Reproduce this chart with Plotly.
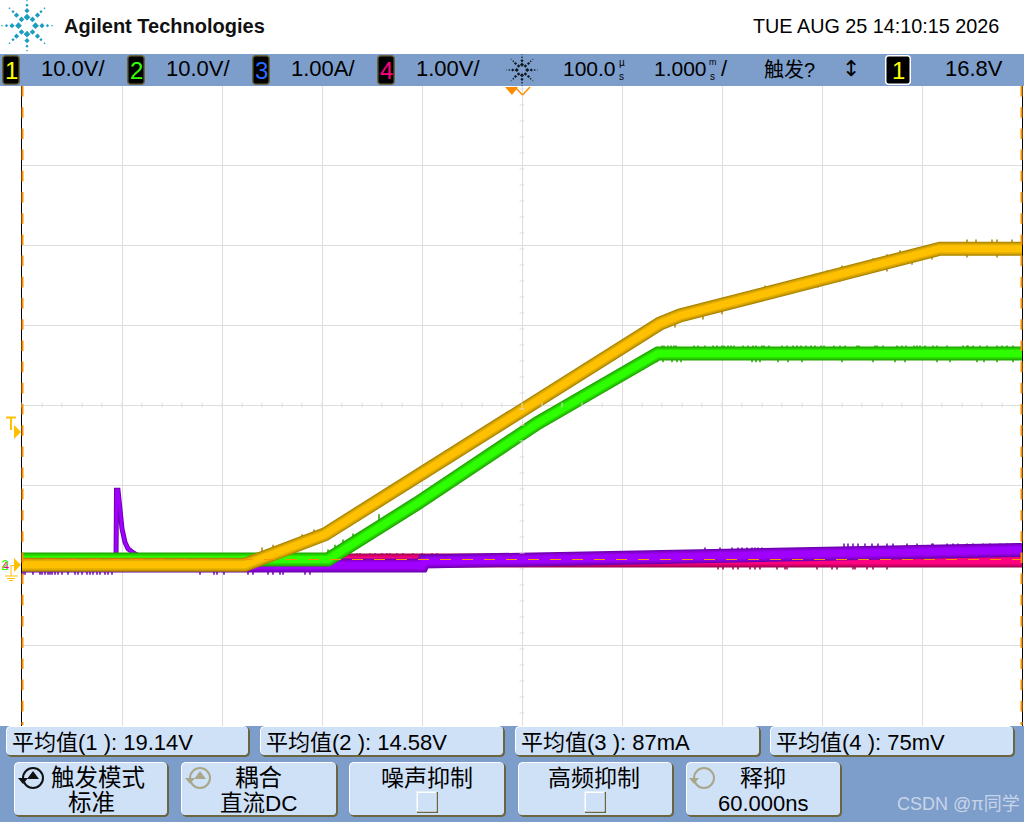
import numpy as np
import plotly.graph_objects as go

# time in ms, channels 1 and 2 in volts, channel 3 in amps, channel 4 in volts
ch1_t = [-4.9, -2.67, -1.87, 1.28, 1.48, 1.68, 2.10, 3.10, 4.10, 4.28, 5.1]
ch1_v = [0.1, 0.1, 3.9, 28.6, 30.25, 31.25, 32.6, 35.65, 39.0, 39.6, 39.6]
ch2_t = [-4.9, -1.84, -0.95, 0.25, 1.46, 5.1]
ch2_v = [0.75, 0.75, 7.75, 17.75, 26.5, 26.5]
ch3_t = [-4.9, -0.9, -0.88, 1.88, 5.1]
ch3_a = [0.0, 0.0, 0.05, 0.119, 0.194]
spike_t = [-3.96, -3.955, -3.94, -3.93, -3.92, -3.90, -3.87, -3.84, -3.79, -3.72, -3.62]
spike_a = [0.0, 0.94, 0.94, 0.81, 0.65, 0.46, 0.29, 0.21, 0.16, 0.11, 0.0]
ch4_t = [-4.9, 5.1]
ch4_v = [0.0625, 0.0625]

# noise glitches that stick out of the bands: time and tip value
ch1_top_t = [-2.50, -2.39, -2.10, -1.98, 1.61, 2.21, 2.53, 3.15, 3.30, 3.61, 3.75, 3.88, 4.06,
             4.55, 4.64, 4.80, 4.85, 5.0]
ch1_top_v = [2.25, 2.6, 3.9, 4.5, 31.5, 33.75, 35.0, 36.9, 37.5, 38.4, 38.9, 39.4, 39.75,
             40.75, 40.75, 40.75, 40.75, 40.75]
ch1_low_t = [1.63, 1.91, 2.10, 2.50, 3.06, 3.28, 3.75, 4.0, 4.2, 4.55, 4.85]
ch1_low_v = [29.75, 30.75, 31.4, 33.0, 34.75, 35.5, 36.75, 37.6, 38.25, 38.5, 38.5]
ch2_top_t = [-1.84, -1.77, -1.69, -1.59, -1.33, 1.50, 1.52, 1.56, 1.59, 1.62, 1.64, 1.82, 1.86,
             1.93, 2.01, 2.05, 2.10, 2.12, 2.16, 2.19, 2.22, 2.31, 2.36, 2.41, 2.44, 2.50,
             2.52, 2.57, 2.70, 2.75, 2.81, 2.85, 2.89, 2.94, 2.99, 3.03, 3.09, 3.12, 3.22,
             3.28, 3.33, 3.45, 3.47, 3.63, 3.65, 3.71, 3.85, 3.90, 3.94, 4.02, 4.05, 4.08,
             4.13, 4.21, 4.25, 4.35, 4.51, 4.55, 4.56, 4.61, 4.68, 4.75, 4.85, 4.90, 4.95, 5.01]
ch2_top_v = [2.0, 2.6, 3.25, 4.0, 6.4] + [27.5] * 61
ch2_low_t = [1.41, 1.45, 1.51, 1.60, 1.65, 1.69, 2.40, 2.44, 2.48, 2.66, 2.76, 2.90, 3.30,
             3.61, 3.83, 3.93, 4.25, 4.38, 4.65, 4.72, 4.85, 5.01]
ch2_low_v = [25.4] * 22
ch3_low_t = [-4.89, -4.87, -4.79, -4.72, -4.70, -4.67, -4.64, -4.62, -4.60, -4.57, -4.54, -4.50,
             -4.44, -4.37, -4.34, -4.30, -4.25, -4.22, -4.19, -4.15, -4.12, -4.07, -4.04, -4.00,
             -3.12, -2.98, -2.95, -2.88, -2.64, -2.59, -2.44, -2.39, -2.32, -2.29, -2.07, -2.02]
ch3_low_a = [-0.115] * 36
ch3_top_t = [1.93, 2.08, 2.20, 2.26, 2.30, 2.35, 2.40, 2.43, 2.46, 2.50, 3.32, 3.36, 3.41, 3.46,
             3.53, 3.60, 3.66, 3.75, 3.81, 3.95, 4.05, 4.20, 4.21, 4.35, 4.41, 4.46, 4.55,
             4.61, 4.71, 4.78, 4.88, 4.95, 5.03]
ch3_top_a = [0.225] * 10 + [0.275] * 23
ch4_top_t = [-4.88, -4.85, -4.82, -4.80, -4.74, -4.70, -4.67, -4.59, -4.55, -4.50, -4.44, -4.37,
             -4.32, -4.27, -4.15, -4.12, -4.07, -4.00, -3.79, -3.75, -3.65, -3.60, -3.52, -3.49,
             -3.42, -3.37, -3.30, -3.25, -3.19, -3.12, -3.04, -2.99, -2.94, -2.85, -2.79, -2.72,
             -1.65, -1.62, -1.55, -1.52, -1.42, -1.37, -1.30, -1.25, -1.22, -1.15, -1.09, -0.99,
             -0.90, -0.80, -0.75]
ch4_top_v = [0.154] * 51
ch4_low_t = [2.06, 2.11, 2.21, 2.26, 2.38, 2.43, 2.48, 2.65, 2.73, 2.75, 3.05, 3.20, 3.25, 3.41,
             3.43, 3.55, 3.61, 3.75]
ch4_low_v = [-0.05] * 18

top_channels = ["10.0V/", "10.0V/", "1.00A/", "1.00V/"]
averages = ["平均值(1 ): 19.14V", "平均值(2 ): 14.58V", "平均值(3 ): 87mA", "平均值(4 ): 75mV"]

BAR = "#7D9DCB"
FACE = "#CFE1F7"
EDGE = "#6B6540"
LATIN = "Liberation Sans, Noto Sans CJK SC"


def px(x):
    return x / 1024


def py(y):
    return 1 - y / 822


shapes = []
annotations = []


def rect(x0, y0, x1, y1, color):
    shapes.append(dict(type="rect", xref="paper", yref="paper", x0=px(x0), x1=px(x1), y0=py(y0), y1=py(y1),
                       fillcolor=color, line_width=0))


def line(x0, y0, x1, y1, color, width=1, dash="solid"):
    shapes.append(dict(type="line", xref="paper", yref="paper", x0=px(x0), x1=px(x1), y0=py(y0), y1=py(y1),
                       line=dict(color=color, width=width, dash=dash)))


def poly(points, color):
    path = "M" + "L".join(f"{px(x):.5f},{py(y):.5f}" for x, y in points) + "Z"
    shapes.append(dict(type="path", xref="paper", yref="paper", path=path, fillcolor=color, line_width=0))


def rounded(x0, y0, x1, y1, r, color):
    pts = []
    for cx, cy, a0 in [(x1 - r, y0 + r, -90), (x1 - r, y1 - r, 0), (x0 + r, y1 - r, 90), (x0 + r, y0 + r, 180)]:
        for a in (a0, a0 + 45, a0 + 90):
            pts.append((cx + r * np.cos(np.radians(a)), cy + r * np.sin(np.radians(a))))
    poly(pts, color)


def label(x, y, text, size=22, color="black", anchor="left", family=LATIN):
    annotations.append(dict(x=px(x), y=py(y), xref="paper", yref="paper", text=text, showarrow=False,
                            xanchor=anchor, yanchor="middle", borderpad=0,
                            font=dict(family=family, size=size, color=color)))


def button(x0, y0, x1, y1):
    rounded(x0, y0, x1 + 1, y1 + 1, 4, EDGE)
    rounded(x0 - 1, y0 - 1, x1 - 1, y1 - 1, 4, "white")
    rounded(x0, y0, x1 - 1, y1 - 1, 3, FACE)


def badge(x0, x1, digit, color, edge="#6B6540"):
    rounded(x0, 55, x1, 85, 3, edge)
    rounded(x0 + 1.5, 56.5, x1 - 1.5, 83.5, 2, "black")
    label((x0 + x1) / 2, 70, digit, 24, color, "center")


def logo(cx, cy, color, scale=1.0):
    def dot(dx, dy, r):
        x, y = cx + dx * scale, cy + dy * scale
        r = r * scale
        poly([(x - r, y), (x, y - r), (x + r, y), (x, y + r)], color)

    for a in range(0, 360, 90):
        c, s = np.cos(np.radians(a)), np.sin(np.radians(a))
        for r, size in [(8.5, 3.4), (15, 2.6), (20.5, 1.6), (25, 0.9)]:
            dot(r * c, r * s, size)
    for sx in (-1, 1):
        for sy in (-1, 1):
            dot(sx * 5.5, sy * 6.3, 2.8)
            dot(sx * 10.5, sy * 10.5, 2.6)
            dot(sx * 14, sy * 14, 1.6)
            dot(sx * 17.5, sy * 17.5, 1)


def rotary(cx, cy, color, double=True):
    shapes.append(dict(type="circle", xref="paper", yref="paper", x0=px(cx - 10), x1=px(cx + 10),
                       y0=py(cy + 10), y1=py(cy - 10), line=dict(color=color, width=2)))
    poly([(cx - 15, cy), (cx - 5, cy), (cx - 10, cy + 6)], color)
    if double:
        poly([(cx - 6, cy + 1), (cx + 6, cy + 1), (cx, cy - 7)], color)


# header and blue bars
rect(0, 54, 1024, 86, BAR)
rect(0, 726, 1024, 822, BAR)
logo(27, 25.7, "#1C9CC0")
label(63, 26, "<b>Agilent Technologies</b>", 20, "#111111")
label(752, 26, "TUE AUG 25 14:10:15 2026", 19.8)

# channel row
for x0, digit, color, text_x, text in zip([2, 127, 252, 377], "1234", ["#FFFF00", "#33FF00", "#2A6BFF", "#FF0080"],
                                          [40, 165, 290, 415], top_channels):
    badge(x0, x0 + 18, digit, color)
    label(text_x, 69, text, 22)
logo(522, 70, "#101820", 0.62)
label(562, 69, "100.0", 21)
label(618, 62, "µ", 10)
label(618, 77, "s", 10)
label(653, 69, "1.000", 21)
label(708, 62, "m", 9)
label(709, 77, "s", 10)
label(720, 69, "/", 22)
label(763, 70, "触发?", 20)
label(851, 69, "↕", 22, "black", "center", "DejaVu Sans")
badge(885, 911, "1", "#FFFF00", "white")
label(944, 69, "16.8V", 22)

# graticule ticks on the centre lines
for y in np.arange(86, 725, 16):
    line(519.5, y + 3, 524.5, y + 3, "#DDDDDD")
for x in np.arange(22, 1022, 20):
    line(x, 402.5, x, 407.5, "#DDDDDD")

# time reference, ground dashes and trigger markers
line(22.5, 86, 22.5, 725, "#FF9000", 2, "10.6px,10.6px")
line(1021.5, 86, 1021.5, 725, "#FF9000", 2, "10.6px,10.6px")
line(22, 559.5, 1022, 559.5, "#FF9000", 1, "11px,11px")
poly([(505, 87), (518, 87), (512, 95)], "#FF8C00")
line(515, 87, 522.5, 95, "#FF8C00", 1.5)
line(522.5, 95, 530, 87, "#FF8C00", 1.5)
line(6, 417.5, 16, 417.5, "#FFC000", 2)
line(11, 417, 11, 430, "#FFC000", 2)
poly([(14, 425), (21, 432), (14, 439)], "#FFC000")
poly([(14, 558), (21, 565), (14, 572)], "#FFC000")
line(11, 565.5, 14, 565.5, "#FFC000", 1)
line(11, 565, 11, 576, "#FFC000", 1)
line(5, 576, 18, 576, "#FFC000", 1)
line(7, 578.5, 15, 578.5, "#FFC000", 1)
line(9, 580.5, 13, 580.5, "#FFC000", 1)
label(5, 565, "4", 13, "#FF0080", "center")
label(5, 565, "2", 14, "#33FF00", "center")

# readouts and soft keys
for (x0, x1), text in zip([(7, 249), (261, 504), (516, 760), (771, 1014)], averages):
    button(x0, 727, x1, 756)
    label(x0 + 4, 742, text, 22)
for x0, x1 in [(15, 168), (182, 337), (350, 505), (519, 673), (687, 841)]:
    button(x0, 763, x1, 816)
rotary(33, 778, "#111111")
rotary(200, 778, "#A9A68A")
rotary(704, 778, "#A9A68A", double=False)
label(98, 778, "触发模式", 23.5, anchor="center")
label(91, 803, "标准", 23.5, anchor="center")
label(258, 778, "耦合", 23.5, anchor="center")
label(259, 803, "直流DC", 22.5, anchor="center")
label(427, 778, "噪声抑制", 23, anchor="center")
label(594, 778, "高频抑制", 23, anchor="center")
label(763, 778, "释抑", 23, anchor="center")
label(763, 803, "60.000ns", 22, anchor="center")
for x0 in (417, 585):
    rect(x0, 792, x0 + 21, 813, EDGE)
    rect(x0 - 0.5, 791.5, x0 + 19.5, 811.5, "white")
    rect(x0 + 1, 793, x0 + 19.5, 811.5, FACE)
label(896, 804, "CSDN @π同学", 18, "rgba(225,232,242,0.75)")

fig = go.Figure()


def add_glitches(t, tips, offset, color, yaxis):
    xs, ys = [], []
    for ti, tip in zip(t, tips):
        xs += [ti, ti, None]
        ys += [tip, tip + offset, None]
    fig.add_trace(go.Scatter(x=xs, y=ys, mode="lines", yaxis=yaxis, hoverinfo="skip",
                             line=dict(color=color, width=1.5)))


def add_band(t, values, colors, widths, yaxis):
    # dark edge first, bright core last, that is how the persistence trace looks
    for color, width in zip(colors, widths):
        fig.add_trace(go.Scatter(x=t, y=values, mode="lines", yaxis=yaxis, hoverinfo="skip",
                                 line=dict(color=color, width=width)))


YELLOW = ["#A88400", "#C89A00", "#E4AE00", "#FFC000"]
GREEN = ["#1FA400", "#24C000", "#28DC00", "#2EFF00"]
PURPLE = ["#6E00AE", "#7E00C6", "#8E00E0", "#A000FF"]
PINK = ["#A00050", "#C00060", "#E00070", "#FF0080"]
WIDTHS = [14, 12, 10, 7]

# y holds the amp and low volt channels, y2 the high volt ones, overlays draw on top
add_glitches(ch4_top_t, ch4_top_v, -0.15, PINK[0], "y")
add_glitches(ch4_low_t, ch4_low_v, 0.15, PINK[0], "y")
add_band(ch4_t, ch4_v, PINK, WIDTHS, "y")
add_glitches(ch3_low_t, ch3_low_a, 0.15, PURPLE[0], "y")
add_glitches(ch3_top_t, ch3_top_a, -0.15, PURPLE[0], "y")
add_band(ch3_t, ch3_a, PURPLE, WIDTHS, "y")
add_band(spike_t, spike_a, [PURPLE[0], PURPLE[3]], [5, 3], "y")
add_glitches(ch2_top_t, ch2_top_v, -1.25, GREEN[0], "y2")
add_glitches(ch2_low_t, ch2_low_v, 1.25, GREEN[0], "y2")
add_band(ch2_t, ch2_v, GREEN, WIDTHS, "y2")
add_glitches(ch1_top_t, ch1_top_v, -1.25, YELLOW[0], "y2")
add_glitches(ch1_low_t, ch1_low_v, 1.25, YELLOW[0], "y2")
add_band(ch1_t, ch1_v, YELLOW, WIDTHS, "y2")

fig.update_layout(
    width=1024,
    height=822,
    margin=dict(l=0, r=0, t=0, b=0),
    paper_bgcolor="white",
    plot_bgcolor="white",
    showlegend=False,
    shapes=shapes,
    annotations=annotations,
    xaxis=dict(domain=[px(22), px(1022)], range=[-4.9, 5.1], tick0=0.1, dtick=1, showticklabels=False,
               gridcolor="#DDDDDD", gridwidth=1, zeroline=False, showline=True, mirror=True,
               linecolor="black", linewidth=1),
    yaxis=dict(domain=[py(725.5), py(85.5)], range=[-2, 6], tick0=0, dtick=1, showticklabels=False,
               gridcolor="#DDDDDD", gridwidth=1, zeroline=False, showline=True, mirror=True,
               linecolor="black", linewidth=1),
    yaxis2=dict(domain=[py(725.5), py(85.5)], range=[-20, 60], overlaying="y", showgrid=False, zeroline=False,
                showticklabels=False),
)

fig.write_html("out.html", config=dict(displayModeBar=False),
               post_script="document.body.style.margin='0';document.body.style.overflow='hidden';")
